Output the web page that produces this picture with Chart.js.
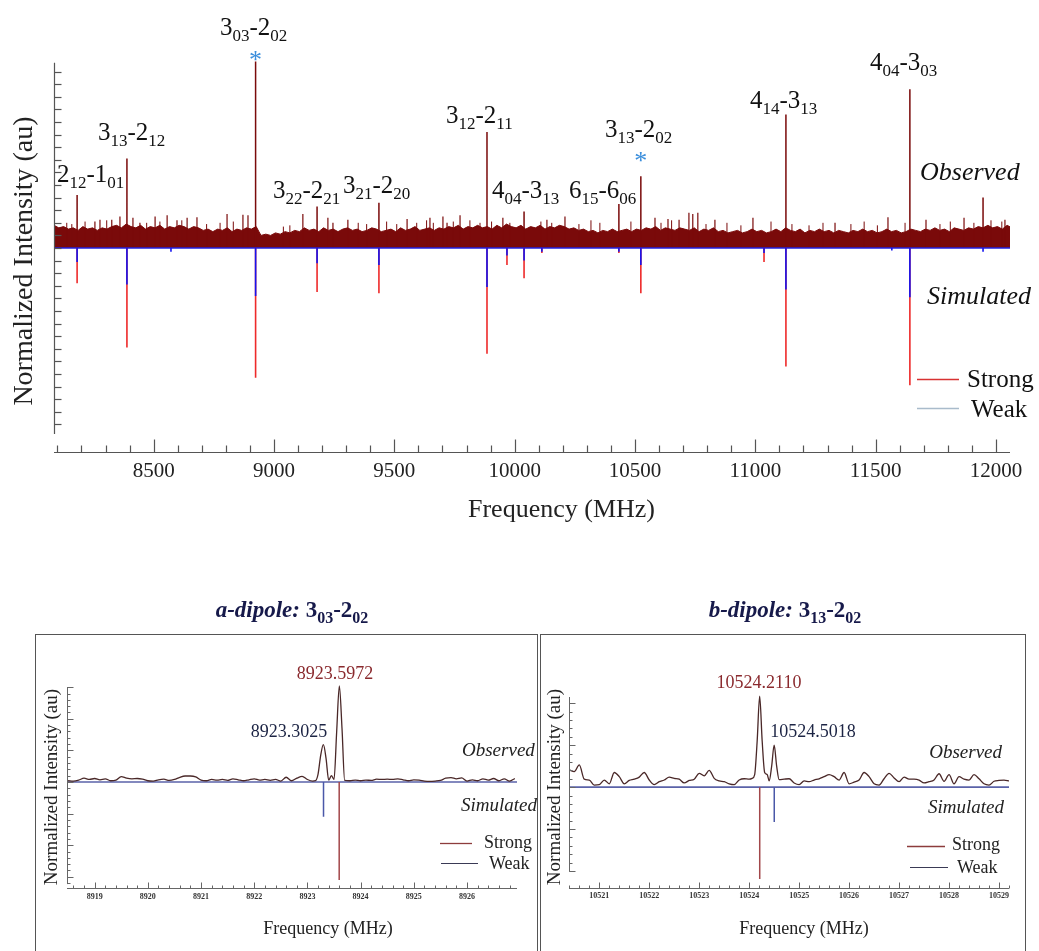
<!DOCTYPE html>
<html><head><meta charset="utf-8">
<script src="https://cdn.jsdelivr.net/npm/chart.js@4.4.1/dist/chart.umd.min.js"></script>
<style>
html,body{margin:0;padding:0;background:#fff;width:1039px;height:951px;overflow:hidden;position:relative;}
canvas{position:absolute;}
.box{position:absolute;border:1.5px solid #555;box-sizing:border-box;}
</style></head><body>
<div class="box" style="left:35px;top:634px;width:503px;height:340px"></div>
<div class="box" style="left:540px;top:634px;width:486px;height:340px"></div>
<canvas id="c0" width="1039" height="530" style="left:0;top:0"></canvas>
<canvas id="cA" width="538" height="361" style="left:0;top:590px"></canvas>
<canvas id="cB" width="501" height="361" style="left:538px;top:590px"></canvas>
<script>
// ================= DATA =================
// Main survey spectrum (frequency in MHz, intensity in arbitrary units)
const mainTicks = [8500, 9000, 9500, 10000, 10500, 11000, 11500, 12000];
const noiseStartMHz = 8086, noiseStepMHz = 20;
const observedNoise = [
  1.8,1.6,1.7,1.5,1.6,1.4,1.7,1.5,1.6,1.4,
  1.6,1.5,1.7,1.8,1.6,1.9,1.7,1.6,1.8,1.5,
  1.7,1.6,1.8,1.5,1.7,1.6,1.8,1.7,1.5,1.7,
  1.6,1.4,1.5,1.3,1.5,1.4,1.6,1.3,1.5,1.4,
  1.6,1.5,1.7,1.0,1.1,1.0,1.2,1.1,1.3,1.2,
  1.4,1.3,1.6,1.4,1.5,1.3,1.6,1.4,1.5,1.3,
  1.5,1.6,1.4,1.5,1.3,1.4,1.6,1.5,1.3,1.4,
  1.5,1.3,1.6,1.4,1.5,1.7,1.4,1.5,1.6,1.4,
  1.6,1.5,1.7,1.6,1.8,1.5,1.7,1.6,1.8,1.6,
  1.7,1.5,1.8,1.6,1.9,1.7,1.6,1.8,1.5,1.7,
  1.6,1.8,1.5,1.7,1.6,1.8,1.7,1.5,1.6,1.4,
  1.5,1.3,1.4,1.2,1.4,1.3,1.5,1.3,1.4,1.5,
  1.3,1.5,1.4,1.6,1.5,1.7,1.4,1.6,1.5,1.4,
  1.6,1.5,1.4,1.6,1.3,1.5,1.4,1.6,1.3,1.4,
  1.2,1.3,1.4,1.2,1.3,1.5,1.3,1.4,1.2,1.3,
  1.5,1.3,1.6,1.4,1.3,1.5,1.2,1.4,1.3,1.5,
  1.3,1.4,1.2,1.4,1.3,1.2,1.4,1.3,1.5,1.3,
  1.4,1.2,1.3,1.5,1.3,1.4,1.2,1.3,1.5,1.4,
  1.3,1.5,1.4,1.6,1.4,1.5,1.3,1.6,1.5,1.4,
  1.6,1.5,1.7,1.6,1.8,1.6,1.7,1.5,1.8,1.6
];
const obsLineFreq = [8182, 8389, 8923.6, 9179, 9436, 9885, 10039, 10433, 10524.2, 11127, 11642, 11946];
const obsLineInt  = [4.2, 7.1, 14.8, 3.3, 3.6, 9.2, 2.9, 3.5, 5.7, 10.6, 12.6, 4.0];
const minorSpikeFreq = [8256,8277,8326,8360,8414,8443,8506,8556,8597,8639,8680,8805,8871,8892,9120,9224,9245,9307,9553,9648,9702,9719,9773,9951,10134,10209,10583,10637,10683,10724,10740,10761,10832,10990,11331,11551,11709,11867,12037];
const minorSpikeInt  = [2.1,2.25,2.25,2.5,2.4,2.0,2.5,2.6,2.2,2.4,2.45,2.7,2.65,2.6,2.7,2.4,2.0,2.25,2.3,2.4,2.5,2.0,2.6,2.4,2.25,2.5,2.4,2.3,2.25,2.8,2.7,2.8,2.25,2.4,2.0,2.45,2.25,2.4,2.25];
const smallSpikeFreq = [8139,8160,8215,8305,8471,8526,8617,8720,8776,8831,9039,9066,9350,9385,9468,9510,9593,9634,9662,9745,9814,9856,9904,9980,
  10109,10154,10267,10317,10354,10483,10608,10652,10795,10882,10940,11065,11152,11223,11281,11397,11452,11507,11622,11767,11810,11908,11979,12024];
const smallSpikeInt  = [2.0,1.9,2.1,2.2,2.0,2.1,2.2,1.9,2.0,2.1,1.7,1.8,2.0,1.9,2.1,1.9,2.0,2.2,2.0,2.1,2.2,2.0,2.1,2.0,
  2.1,2.0,1.9,2.2,2.0,2.1,2.0,2.2,1.9,2.0,1.8,2.1,1.9,1.8,2.0,1.9,2.1,1.8,2.0,1.9,2.1,2.0,2.2,2.1];
const simFreq   = [8182, 8389, 8572, 8923.6, 9179, 9436, 9885, 9968, 10039, 10113, 10433, 10524.2, 11036, 11127, 11567, 11642, 11946];
const simStrong = [-2.8, -7.9, null, -10.3, -3.5, -3.6, -8.4, -1.35, -2.4, -0.4, -0.4, -3.6, -1.1, -9.4, null, -10.9, null];
const simWeak   = [-1.1, -2.9, -0.3, -3.8, -1.2, -1.35, -3.1, -0.6, -1.0, -0.3, -0.3, -1.35, -0.4, -3.3, -0.2, -3.9, -0.3];
const lineLabels = ['2|12|-1|01','3|13|-2|12','3|03|-2|02','3|22|-2|21','3|21|-2|20','3|12|-2|11','4|04|-3|13','6|15|-6|06','3|13|-2|02','4|14|-3|13','4|04|-3|03'];
const starredFreq = [8923.6, 10524.2];

// Panel A: a-dipole 3_03-2_02 close-up
const ticksA = [8919, 8920, 8921, 8922, 8923, 8924, 8925, 8926];
const freqA = [8918.5,8918.6,8918.7,8918.8,8918.9,8919.0,8919.1,8919.2,8919.3,8919.4,
  8919.5,8919.6,8919.7,8919.8,8919.9,8920.0,8920.1,8920.2,8920.3,8920.4,
  8920.5,8920.6,8920.7,8920.8,8920.9,8921.0,8921.1,8921.2,8921.3,8921.4,
  8921.5,8921.6,8921.7,8921.8,8921.9,8922.0,8922.1,8922.2,8922.3,8922.4,
  8922.5,8922.6,8922.7,8922.8,8922.9,8923.0,8923.1,
  8923.15,8923.2,8923.25,8923.3,8923.35,8923.4,8923.45,8923.5,8923.55,8923.6,8923.65,8923.7,
  8923.8,8923.9,8924.0,8924.1,8924.2,8924.3,8924.4,8924.5,8924.6,8924.7,
  8924.8,8924.9,8925.0,8925.1,8925.2,8925.3,8925.4,8925.5,8925.6,8925.7,
  8925.8,8925.9,8926.0,8926.1,8926.2,8926.3,8926.4,8926.5,8926.6,8926.7,8926.8,8926.9];
const obsA = [0.04,0.03,0.06,0.12,0.08,0.11,0.07,0.10,0.04,0.06,
  0.17,0.12,0.10,0.11,0.09,0.04,0.03,0.07,0.09,0.05,
  0.08,0.15,0.19,0.19,0.16,0.06,0.04,0.08,0.06,0.08,
  0.05,0.10,0.07,0.04,0.07,0.10,0.06,0.08,0.05,0.08,
  0.03,0.15,0.04,0.12,0.18,0.08,0.03,
  0.04,0.25,0.85,1.18,0.75,0.06,0.20,0.08,1.6,3.04,1.7,0.05,
  0.04,0.06,0.04,0.06,0.05,0.09,0.08,0.09,0.08,0.10,
  0.07,0.04,0.07,0.06,0.03,0.02,0.03,0.05,0.12,0.14,
  0.10,0.13,0.03,0.07,0.04,0.10,0.06,0.11,0.04,0.10,0.03,0.11];
const simFreqA = [8923.5972, 8923.3025];
const simIntA  = [-3.1, -1.1];   // strong, weak
const peakLabelsA = ['8923.5972', '8923.3025'];

// Panel B: b-dipole 3_13-2_02 close-up
const ticksB = [10521, 10522, 10523, 10524, 10525, 10526, 10527, 10528, 10529];
const freqB = [10520.4,10520.5,10520.6,10520.7,10520.8,10520.9,10521.0,10521.1,10521.2,10521.3,
  10521.4,10521.5,10521.6,10521.7,10521.8,10521.9,10522.0,10522.1,10522.2,10522.3,
  10522.4,10522.5,10522.6,10522.7,10522.8,10522.9,10523.0,10523.1,10523.2,10523.3,
  10523.4,10523.5,10523.6,10523.7,10523.8,10523.9,10524.0,
  10524.06,10524.11,10524.16,10524.21,10524.26,10524.31,10524.36,10524.40,10524.45,10524.50,10524.55,10524.60,
  10524.7,10524.8,10524.9,10525.0,10525.1,10525.2,10525.3,10525.4,10525.5,10525.6,
  10525.7,10525.8,10525.9,10526.0,10526.1,10526.2,10526.3,10526.4,10526.5,10526.6,
  10526.7,10526.8,10526.9,10527.0,10527.1,10527.2,10527.3,10527.4,10527.5,10527.6,
  10527.7,10527.8,10527.9,10528.0,10528.1,10528.2,10528.3,10528.4,10528.5,10528.6,
  10528.7,10528.8,10528.9,10529.0,10529.1,10529.2];
const obsB = [0.41,0.37,0.53,0.19,0.17,0.05,0.06,0.17,0.08,0.35,
  0.25,0.08,0.16,0.19,0.24,0.35,0.17,0.06,0.13,0.17,
  0.24,0.21,0.19,0.10,0.16,0.19,0.33,0.27,0.40,0.21,
  0.15,0.13,0.08,0.06,0.17,0.20,0.19,
  0.21,0.30,1.10,2.17,1.10,0.35,0.30,0.15,0.50,1.00,0.50,0.18,
  0.19,0.20,0.10,0.06,0.15,0.13,0.17,0.20,0.25,0.30,
  0.25,0.17,0.35,0.08,0.12,0.17,0.35,0.25,0.08,0.05,
  0.20,0.33,0.22,0.13,0.24,0.19,0.19,0.17,0.10,0.13,
  0.17,0.32,0.14,0.30,0.08,0.25,0.19,0.17,0.30,0.20,
  0.08,0.05,0.14,0.16,0.17,0.15];
const simFreqB = [10524.2110, 10524.5018];
const simIntB  = [-2.19, -0.83];  // strong, weak
const peakLabelsB = ['10524.2110', '10524.5018'];

// ================= HELPERS =================
const SERIF = '"Liberation Serif","Times New Roman",serif';
function fontOf(r, size){
  const s = r.sub ? Math.round(size*0.68) : size;
  return (r.italic?'italic ':'') + (r.bold?'bold ':'') + s + 'px ' + SERIF;
}
function drawRuns(ctx, runs, x, y, size, color, align){
  let w = 0;
  runs.forEach(r => { ctx.font = fontOf(r,size); w += ctx.measureText(r.t).width; });
  let cx = align==='center' ? x - w/2 : (align==='right' ? x - w : x);
  ctx.fillStyle = color; ctx.textAlign='left'; ctx.textBaseline='alphabetic';
  runs.forEach(r => { ctx.font = fontOf(r,size); ctx.fillText(r.t, cx, y + (r.sub ? size*0.24 : 0)); cx += ctx.measureText(r.t).width; });
}
function parseLabel(s, extra){ return s.split('|').map((t,i)=>Object.assign({t, sub: i%2===1}, extra||{})); }
function text(ctx, t, x, y, font, color, align){ ctx.font=font; ctx.fillStyle=color; ctx.textAlign=align||'left'; ctx.textBaseline='alphabetic'; ctx.fillText(t,x,y); }
function vtext(ctx, t, x, y, font, color){ ctx.save(); ctx.translate(x,y); ctx.rotate(-Math.PI/2); ctx.font=font; ctx.fillStyle=color; ctx.textAlign='center'; ctx.textBaseline='middle'; ctx.fillText(t,0,0); ctx.restore(); }
function hline(ctx, x1, x2, y, color, w){ ctx.strokeStyle=color; ctx.lineWidth=w||1; ctx.beginPath(); ctx.moveTo(x1,y); ctx.lineTo(x2,y); ctx.stroke(); }
function spikes(freqs, vals){
  const d = [];
  freqs.forEach((f,i)=>{ if (vals[i]==null) return; d.push({x:f,y:0},{x:f,y:vals[i]},{x:f,y:null}); });
  return d;
}
function lineDS(data, color, width, order, extra){
  return Object.assign({type:'line', data, borderColor:color, backgroundColor:color, borderWidth:width, pointRadius:0, spanGaps:false, tension:0, order}, extra||{});
}
function baseOpts(xmin,xmax,ymin,ymax,pad){
  return {
    responsive:false, animation:false, events:[],
    layout:{padding:pad},
    plugins:{legend:{display:false}, tooltip:{enabled:false}},
    scales:{
      x:{type:'linear', min:xmin, max:xmax, display:false},
      y:{type:'linear', min:ymin, max:ymax, display:false}
    }
  };
}

// ================= MAIN CHART =================
const noisePts = observedNoise.map((v,i)=>({x: noiseStartMHz + i*noiseStepMHz, y: v}));
new Chart(document.getElementById('c0'), {
  type:'line',
  data:{datasets:[
    lineDS(spikes(simFreq, simWeak), '#1414f0', 1.6, 1),
    lineDS(spikes(simFreq, simStrong), '#ee2a2a', 1.6, 2),
    lineDS([{x:8086,y:0},{x:12058,y:0}], '#2020e0', 1.6, 3),
    lineDS(spikes(obsLineFreq, obsLineInt), '#7a0a0a', 1.5, 4),
    lineDS(spikes(minorSpikeFreq, minorSpikeInt), '#7a0a0a', 1.2, 5),
    lineDS(spikes(smallSpikeFreq, smallSpikeInt), '#7a0a0a', 1, 6),
    lineDS(noisePts, '#7a0a0a', 1, 7, {fill:'origin', backgroundColor:'#7a0a0a'})
  ]},
  options: baseOpts(8086, 12058, -16.19, 16.51, {left:54, right:29, top:40, bottom:78}),
  plugins:[{id:'decoMain', afterDraw(chart){
    const ctx = chart.ctx, xs = chart.scales.x, ys = chart.scales.y, ca = chart.chartArea;
    ctx.save();
    // x axis
    const yAx = Math.round(ca.bottom) + 0.5;
    hline(ctx, ca.left, ca.right, yAx, '#555', 1.2);
    ctx.strokeStyle='#555'; ctx.lineWidth=1.2;
    for (let f=8100; f<=12000; f+=100){
      const px = Math.round(xs.getPixelForValue(f)) + 0.5;
      ctx.beginPath(); ctx.moveTo(px, yAx); ctx.lineTo(px, yAx - (f%500===0 ? 13 : 7)); ctx.stroke();
    }
    mainTicks.forEach(v => text(ctx, String(v), xs.getPixelForValue(v), 477, '21px '+SERIF, '#222', 'center'));
    // y axis
    const xAx = Math.round(ca.left) + 0.5;
    ctx.beginPath(); ctx.moveTo(xAx, ys.getPixelForValue(14.7)); ctx.lineTo(xAx, ys.getPixelForValue(-14.76)); ctx.stroke();
    for (let v=-14; v<=14; v++){
      const py = Math.round(ys.getPixelForValue(v)) + 0.5;
      ctx.beginPath(); ctx.moveTo(xAx, py); ctx.lineTo(xAx + 7, py); ctx.stroke();
    }
    // titles
    vtext(ctx, 'Normalized Intensity (au)', 25, 261, '28px '+SERIF, '#222');
    text(ctx, 'Frequency (MHz)', 468, 517, '26px '+SERIF, '#222', 'left');
    // line labels
    const pos = [[57,182],[98,140],[220,35],[273,198],[343,193],[446,123],[492,198],[569,198],[605,137],[750,108],[870,70]];
    lineLabels.forEach((s,i)=> drawRuns(ctx, parseLabel(s), pos[i][0], pos[i][1], 25, '#111', 'left'));
    // asterisks
    const starY = [68, 169];
    starredFreq.forEach((f,i)=> text(ctx, '*', xs.getPixelForValue(f), starY[i], '26px '+SERIF, '#3a8edc', 'center'));
    // side texts
    text(ctx, 'Observed', 920, 180, 'italic 26px '+SERIF, '#111');
    text(ctx, 'Simulated', 927, 304, 'italic 26px '+SERIF, '#111');
    hline(ctx, 917, 959, 379.5, '#d83232', 1.3);
    hline(ctx, 917, 959, 408.5, '#a9bbcb', 1.6);
    text(ctx, 'Strong', 967, 387, '25px '+SERIF, '#111');
    text(ctx, 'Weak', 971, 417, '25px '+SERIF, '#111');
    ctx.restore();
  }}]
});

// ================= PANELS =================
function panel(id, cfg){
  const obs = cfg.freq.map((f,i)=>({x:f, y:cfg.obs[i]}));
  new Chart(document.getElementById(id), {
    type:'line',
    data:{datasets:[
      lineDS(spikes([cfg.simFreq[1]], [cfg.simInt[1]]), '#4a58a8', 1.5, 1),
      lineDS(spikes([cfg.simFreq[0]], [cfg.simInt[0]]), '#a2474a', 1.5, 2),
      lineDS(obs, '#4a2828', 1.3, 3, {cubicInterpolationMode:'monotone', clip:false}),
      lineDS([{x:cfg.xmin,y:0},{x:cfg.xmax,y:0}], '#5a62a8', 1.6, 4)
    ]},
    options: baseOpts(cfg.xmin, cfg.xmax, cfg.ymin, cfg.ymax, cfg.pad),
    plugins:[{id:'deco'+id, afterDraw(chart){
      const ctx = chart.ctx, xs = chart.scales.x, ys = chart.scales.y, ca = chart.chartArea;
      ctx.save();
      const yAx = Math.round(ca.bottom) + 0.5;
      hline(ctx, ca.left, ca.right, yAx, '#666', 1);
      ctx.strokeStyle='#666'; ctx.lineWidth=1;
      for (let k=Math.ceil(cfg.xmin*5); k<=Math.floor(cfg.xmax*5); k++){
        const f = k/5, px = Math.round(xs.getPixelForValue(f)) + 0.5;
        ctx.beginPath(); ctx.moveTo(px, yAx); ctx.lineTo(px, yAx - (k%5===0 ? 6 : 3)); ctx.stroke();
      }
      cfg.ticks.forEach(v => text(ctx, String(v), xs.getPixelForValue(v), cfg.tickY, 'bold 8px '+SERIF, '#333', 'center'));
      const xAx = Math.round(ca.left) + 0.5;
      ctx.beginPath(); ctx.moveTo(xAx, ys.getPixelForValue(cfg.yTop)); ctx.lineTo(xAx, ys.getPixelForValue(cfg.yBot)); ctx.stroke();
      for (let k=Math.ceil(cfg.yBot*5); k<=Math.floor(cfg.yTop*5); k++){
        const py = Math.round(ys.getPixelForValue(k/5)) + 0.5;
        ctx.beginPath(); ctx.moveTo(xAx, py); ctx.lineTo(xAx + (k%5===0 ? 6 : 3), py); ctx.stroke();
      }
      vtext(ctx, 'Normalized Intensity (au)', cfg.yTitleX, 197, '19px '+SERIF, '#222');
      text(ctx, 'Frequency (MHz)', cfg.xTitleX, 344, '18px '+SERIF, '#222', 'center');
      // title
      drawRuns(ctx, [{t:cfg.titleA, italic:true, bold:true}].concat(parseLabel(cfg.titleB, {bold:true})), cfg.titleX, 27, 23, '#16194a', 'center');
      // peak labels
      drawRuns(ctx, [{t:cfg.labels[0]}], cfg.lab[0][0], cfg.lab[0][1], 18, '#8a2a2e', 'center');
      drawRuns(ctx, [{t:cfg.labels[1]}], cfg.lab[1][0], cfg.lab[1][1], 18, '#1c2444', 'center');
      text(ctx, 'Observed', cfg.obsX, cfg.obsY, 'italic 19px '+SERIF, '#222', cfg.sideAlign);
      text(ctx, 'Simulated', cfg.simX, cfg.simY, 'italic 19px '+SERIF, '#222', cfg.sideAlign);
      hline(ctx, cfg.leg[0], cfg.leg[1], cfg.leg[2]+0.5, '#8d3c3c', 1.3);
      hline(ctx, cfg.leg[3], cfg.leg[4], cfg.leg[5]+0.5, '#3a3a55', 1);
      text(ctx, 'Strong', cfg.leg[6], cfg.leg[7], '18px '+SERIF, '#222');
      text(ctx, 'Weak', cfg.leg[8], cfg.leg[9], '18px '+SERIF, '#222');
      ctx.restore();
    }}]
  });
}
panel('cA', {
  freq:freqA, obs:obsA, simFreq:simFreqA, simInt:simIntA, labels:peakLabelsA, ticks:ticksA,
  xmin:8918.48, xmax:8926.94, ymin:-3.354, ymax:3.006, yTop:3.006, yBot:-3.23,
  pad:{left:67, right:21, top:97, bottom:63}, tickY:309,
  yTitleX:52, xTitleX:328, titleX:292, titleA:'a-dipole: ', titleB:'3|03|-2|02',
  lab:[[335,89],[289,147]],
  obsX:462, obsY:166, simX:461, simY:221, sideAlign:'left',
  leg:[440,472,253,441,478,273,484,258,489,279]
});
panel('cB', {
  freq:freqB, obs:obsB, simFreq:simFreqB, simInt:simIntB, labels:peakLabelsB, ticks:ticksB,
  xmin:10520.394, xmax:10529.2, ymin:-2.405, ymax:2.15, yTop:2.15, yBot:-2.02,
  pad:{left:31, right:30, top:107, bottom:63}, tickY:308,
  yTitleX:17, xTitleX:266, titleX:247, titleA:'b-dipole: ', titleB:'3|13|-2|02',
  lab:[[221,98],[275,147]],
  obsX:464, obsY:168, simX:466, simY:223, sideAlign:'right',
  leg:[369,407,256,372,410,277,414,260,419,283]
});
</script>
</body></html>
